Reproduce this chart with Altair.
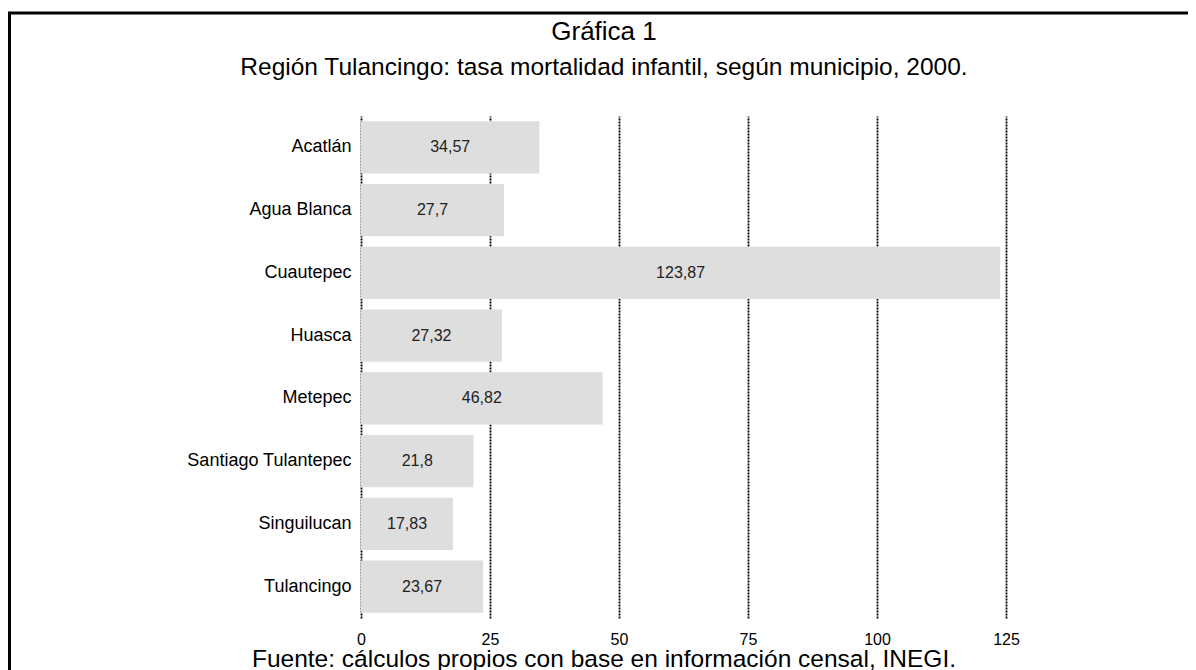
import altair as alt
import pandas as pd

municipios = ["Acatlán", "Agua Blanca", "Cuautepec", "Huasca", "Metepec",
              "Santiago Tulantepec", "Singuilucan", "Tulancingo"]
tasas = [34.57, 27.7, 123.87, 27.32, 46.82, 21.8, 17.83, 23.67]
etiquetas = ["34,57", "27,7", "123,87", "27,32", "46,82", "21,8", "17,83", "23,67"]
ticks_x = [0, 25, 50, 75, 100, 125]

titulo = "Gráfica 1"
subtitulo = "Región Tulancingo: tasa mortalidad infantil, según municipio, 2000."
fuente = "Fuente: cálculos propios con base en información censal, INEGI."

df = pd.DataFrame({"municipio": municipios, "tasa": tasas, "etiqueta": etiquetas})

FONT = "Liberation Sans"
W, H = 645, 502
PL, PT = 353, 108

y_enc = alt.Y("municipio:N", sort=municipios, title=None,
              scale=alt.Scale(paddingInner=0.17, paddingOuter=0.085),
              axis=alt.Axis(domain=False, ticks=False, labelFontSize=18,
                            labelColor="black", labelFont=FONT, labelPadding=10,
                            labelLimit=300, grid=False))
x_scale = alt.Scale(domain=[0, 125], nice=False)

base = alt.Chart(df)

bars = base.mark_bar(color="#DEDEDE").encode(
    x=alt.X("tasa:Q", scale=x_scale, title=None,
            axis=alt.Axis(values=ticks_x, domain=False, ticks=False,
                          labelFontSize=16, labelColor="black", labelFont=FONT,
                          labelPadding=13, labelFlush=False, grid=True,
                          gridColor="black", gridDash=[2, 1], gridWidth=1.8,
                          gridOpacity=1)),
    y=y_enc,
)

labels = base.transform_calculate(mid="datum.tasa / 2").mark_text(
    fontSize=16, font=FONT, color="#222222", baseline="middle"
).encode(
    x=alt.X("mid:Q", scale=x_scale),
    y=alt.Y("municipio:N", sort=municipios),
    text="etiqueta:N",
)

one = pd.DataFrame({"a": [0]})
frame = alt.Chart(one).mark_rect(fill=None, stroke="black", strokeWidth=3).encode(
    x=alt.value(-351.5), x2=alt.value(900), y=alt.value(-103), y2=alt.value(700))
t1 = alt.Chart(one).mark_text(text=titulo, fontSize=26, font=FONT, color="black",
                              baseline="alphabetic").encode(
    x=alt.value(243), y=alt.value(-76))
t2 = alt.Chart(one).mark_text(text=subtitulo, fontSize=24.5, font=FONT, color="black",
                              baseline="alphabetic").encode(
    x=alt.value(243), y=alt.value(-41))
t3 = alt.Chart(one).mark_text(text=fuente, fontSize=24.5, font=FONT, color="black",
                              baseline="alphabetic").encode(
    x=alt.value(243), y=alt.value(H + 49))

chart = alt.layer(frame, bars, labels, t1, t2, t3).properties(
    width=W, height=H,
    autosize=alt.AutoSizeParams(type="none"),
    padding={"left": PL, "top": PT, "right": 1180 - PL - W, "bottom": 670 - PT - H},
).configure(background="white").configure_view(stroke=None)

chart.save("out.html", embed_options={"renderer": "svg", "actions": False})
